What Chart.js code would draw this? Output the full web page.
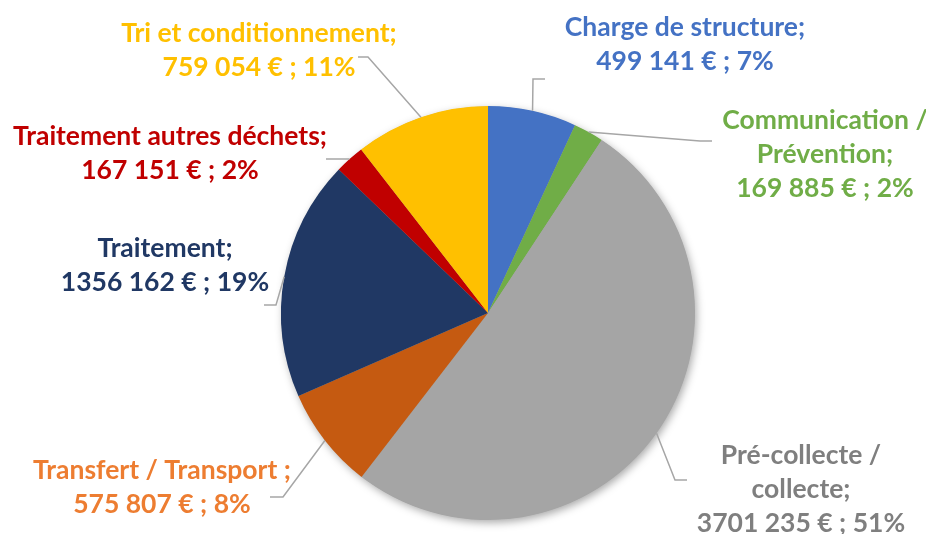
<!DOCTYPE html>
<html>
<head>
<meta charset="utf-8">
<script src="https://cdn.jsdelivr.net/npm/chart.js@4"></script>
<style>
  html, body { margin: 0; padding: 0; background: #ffffff; }
  #wrap { width: 926px; height: 534px; position: relative; }
</style>
</head>
<body>
<div id="wrap"><canvas id="c" width="926" height="534"></canvas></div>
<script>
// ---- data ----
const categories = [
  'Charge de structure',
  'Communication / Prévention',
  'Pré-collecte / collecte',
  'Transfert / Transport ',
  'Traitement',
  'Traitement autres déchets',
  'Tri et conditionnement'
];
const amounts = [499141, 169885, 3701235, 575807, 1356162, 167151, 759054];

// ---- styles ----
const sliceColors = ['#4472C4', '#70AD47', '#A5A5A5', '#C55A11', '#203864', '#C00000', '#FFC000'];
const labelColors = ['#4472C4', '#70AD47', '#7F7F7F', '#ED7D31', '#203864', '#C00000', '#FFC000'];
// label block: first-line centre offset from pie centre, wrap width
const labelLayout = [
  { dx: 197, dy: -286, wrap: 400 },
  { dx: 337, dy: -193, wrap: 215 },
  { dx: 313, dy: 142, wrap: 170 },
  { dx: -326, dy: 157, wrap: 400 },
  { dx: -323, dy: -65, wrap: 400 },
  { dx: -318, dy: -177, wrap: 400 },
  { dx: -229, dy: -280, wrap: 400 }
];
// leader line: elbow and end offsets from pie centre
const leaderLayout = [
  { ex: 45, ey: -234, tx: 57, ty: -234 },
  { ex: 212, ey: -172, tx: 224, ty: -172 },
  { ex: 187, ey: 167, tx: 199, ty: 167 },
  { ex: -205, ey: 184, tx: -218, ty: 184 },
  { ex: -212, ey: -8, tx: -224, ty: -8 },
  { ex: -148, ey: -154, tx: -162, ty: -154 },
  { ex: -120, ey: -256, tx: -130, ty: -256 }
];
const FONT = 'bold 26.5px Lato, "Open Sans", sans-serif';
const LINE_H = 34;

function fmtEuro(v) {
  const s = String(v);
  const head = s.slice(0, s.length - 3);
  const tail = s.slice(-3);
  return (head ? head + ' ' : '') + tail + ' €';
}

function wrapText(ctx, text, maxW) {
  const words = text.split(' ');
  const lines = [];
  let cur = '';
  for (const w of words) {
    const test = cur ? cur + ' ' + w : w;
    if (cur && ctx.measureText(test).width > maxW) {
      lines.push(cur);
      cur = w;
    } else {
      cur = test;
    }
  }
  if (cur) lines.push(cur);
  return lines;
}

const shadowPlugin = {
  id: 'pieShadow',
  beforeDatasetsDraw(chart) {
    const arc = chart.getDatasetMeta(0).data[0];
    if (!arc) return;
    const ctx = chart.ctx;
    ctx.save();
    ctx.shadowColor = 'rgba(0,0,0,0.35)';
    ctx.shadowBlur = 9;
    ctx.shadowOffsetX = 2;
    ctx.shadowOffsetY = 3;
    ctx.fillStyle = '#A5A5A5';
    ctx.beginPath();
    ctx.arc(arc.x, arc.y, arc.outerRadius - 0.5, 0, Math.PI * 2);
    ctx.fill();
    ctx.restore();
  }
};

const labelPlugin = {
  id: 'pieLabels',
  afterDatasetsDraw(chart) {
    const ctx = chart.ctx;
    const meta = chart.getDatasetMeta(0);
    const data = chart.data.datasets[0].data;
    const total = data.reduce((a, b) => a + b, 0);
    ctx.save();
    ctx.font = FONT;
    meta.data.forEach((arc, i) => {
      const cx = arc.x, cy = arc.y;
      const mid = (arc.startAngle + arc.endAngle) / 2;
      const r = arc.outerRadius;
      const px = cx + Math.cos(mid) * r;
      const py = cy + Math.sin(mid) * r;
      const L = leaderLayout[i];
      ctx.strokeStyle = '#A6A6A6';
      ctx.lineWidth = 1.5;
      ctx.beginPath();
      ctx.moveTo(px, py);
      ctx.lineTo(cx + L.ex, cy + L.ey);
      ctx.lineTo(cx + L.tx, cy + L.ty);
      ctx.stroke();

      const lay = labelLayout[i];
      const name = chart.data.labels[i] + ';';
      const lines = wrapText(ctx, name, lay.wrap);
      lines.push(fmtEuro(data[i]) + ' ; ' + Math.round(data[i] / total * 100) + '%');
      ctx.fillStyle = labelColors[i];
      ctx.textAlign = 'center';
      ctx.textBaseline = 'middle';
      lines.forEach((ln, k) => {
        ctx.fillText(ln, cx + lay.dx, cy + lay.dy + k * LINE_H);
      });
    });
    ctx.restore();
  }
};

new Chart(document.getElementById('c'), {
  type: 'pie',
  data: {
    labels: categories,
    datasets: [{
      data: amounts,
      backgroundColor: sliceColors,
      borderWidth: 0
    }]
  },
  options: {
    responsive: false,
    animation: false,
    layout: { padding: { top: 106, bottom: 14, left: 80, right: 30 } },
    plugins: {
      legend: { display: false },
      tooltip: { enabled: false }
    }
  },
  plugins: [shadowPlugin, labelPlugin]
});
</script>
</body>
</html>
